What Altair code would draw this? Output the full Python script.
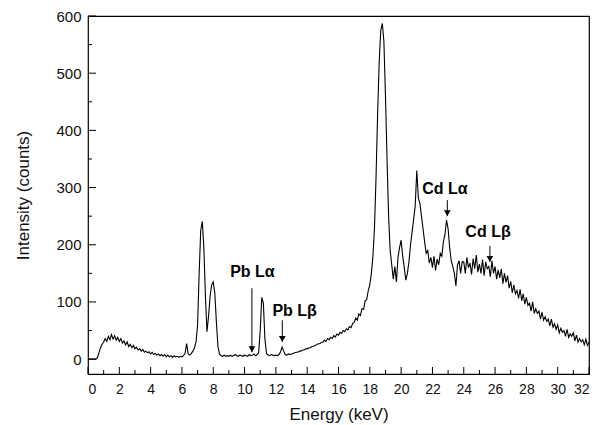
import altair as alt
import pandas as pd

# Spectrum intensity, read every 0.1 keV starting at 0.0 keV
start_energy = 0.0
energy_step = 0.1
intensity = [
    0, 0, 0, 0, 0, 0, 2, 11, 20, 26,
    30, 36, 31, 40, 34, 43, 35, 41, 33, 38,
    31, 36, 28, 32, 25, 30, 22, 26, 20, 24,
    18, 21, 16, 18, 14, 17, 12, 14, 11, 13,
    9, 12, 8, 10, 7, 9, 6, 8, 5, 8,
    4, 7, 4, 6, 3, 6, 4, 5, 3, 5,
    4, 6, 10, 27, 9, 7, 10, 14, 20, 30,
    60, 150, 225, 241, 195, 110, 48, 75, 110, 130,
    135, 115, 65, 22, 9, 6, 5, 7, 5, 6,
    5, 7, 5, 6, 8, 6, 5, 7, 6, 5,
    7, 6, 5, 8, 6, 7, 9, 6, 8, 11,
    50, 108, 98, 35, 10, 7, 6, 8, 7, 6,
    7, 6, 8, 13, 21, 14, 8, 7, 9, 8,
    9, 10, 11, 12, 12, 14, 14, 16, 16, 18,
    18, 20, 20, 22, 22, 24, 25, 27, 27, 29,
    30, 33, 31, 36, 34, 38, 36, 41, 39, 44,
    42, 47, 45, 50, 48, 53, 51, 57, 55, 62,
    64, 72, 68, 79, 76, 88, 87, 102, 104, 120,
    130, 150, 180, 230, 320, 430, 520, 575, 587, 555,
    460, 350, 250, 190, 165, 140, 162, 135, 178, 195,
    208, 180, 160, 138, 150, 170, 200, 222, 245, 268,
    330, 282, 272, 250, 228, 205, 185, 190, 168, 178,
    160, 180, 155, 175, 165, 185, 180, 205, 218, 243,
    228, 195, 172, 162, 150, 128, 165, 172, 150, 170,
    170, 150, 178, 160, 168, 148, 176, 158, 182, 152,
    166, 150, 174, 146, 170, 158, 162, 144, 172, 150,
    162, 140, 156, 142, 158, 132, 150, 134, 146, 124,
    136, 116, 130, 114, 120, 106, 122, 102, 114, 96,
    108, 94, 98, 84, 100, 80, 88, 80, 84, 70,
    82, 68, 74, 66, 70, 58, 70, 56, 62, 52,
    60, 46, 54, 47, 50, 40, 52, 38, 44, 40,
    46, 32, 42, 30, 36, 30, 34, 25, 35, 24,
    30,
]
energy = [round(start_energy + energy_step * i, 1) for i in range(len(intensity))]

# Peak annotations
labels = ["Pb Lα", "Pb Lβ", "Cd Lα", "Cd Lβ"]
label_x = [10.5, 13.2, 22.8, 25.55]
label_y = [152, 84, 298, 222]
arrow_x = [10.47, 12.41, 22.95, 25.67]
arrow_top = [124, 68, 278, 198]
arrow_tip = [12, 30, 250, 170]

# Axis labels and tick marks
x_labels = list(range(0, 33, 2))
x_major_ticks = list(range(0, 33, 2))
x_minor_ticks = list(range(1, 32, 2))
y_labels = list(range(0, 601, 100))
y_major_ticks = list(range(0, 601, 100))
y_minor_ticks = list(range(50, 600, 100))

W, H = 501, 358
FONT = "Liberation Sans"

spec = pd.DataFrame({"energy": energy, "intensity": intensity})
ann = pd.DataFrame({"label": labels, "lx": label_x, "ly": label_y,
                    "ax": arrow_x, "atop": arrow_top, "atip": arrow_tip})

xs = alt.Scale(domain=[0, 32], nice=False, zero=False)
ys = alt.Scale(domain=[-26, 600], nice=False, zero=False)

x_axis = alt.Axis(values=x_labels, ticks=False, domain=False, grid=False,
                  labelFont=FONT, labelFontSize=14, labelColor="#111",
                  labelPadding=8, titleFont=FONT, titleFontSize=17,
                  titleFontWeight="normal", titleColor="#111", titlePadding=10)
y_axis = alt.Axis(values=y_labels, ticks=False, domain=False, grid=False,
                  labelFont=FONT, labelFontSize=15, labelColor="#111",
                  labelPadding=7, titleFont=FONT, titleFontSize=17,
                  titleFontWeight="normal", titleColor="#111", titlePadding=23)
X_TITLE = "Energy (keV)"
Y_TITLE = "Intensity (counts)"

def xenc(field):
    return alt.X(field, type="quantitative", scale=xs, axis=x_axis, title=X_TITLE)

def yenc(field):
    return alt.Y(field, type="quantitative", scale=ys, axis=y_axis, title=Y_TITLE)

line = alt.Chart(spec).mark_line(color="black", strokeWidth=1.1).encode(
    x=xenc("energy"), y=yenc("intensity"))

def xtick_layer(vals, length):
    df = pd.DataFrame({"energy": vals})
    return alt.Chart(df).mark_rule(color="black", strokeWidth=1).encode(
        x=xenc("energy"), y=alt.value(H), y2=alt.value(H - length))

def ytick_layer(vals, length):
    df = pd.DataFrame({"intensity": vals})
    return alt.Chart(df).mark_rule(color="black", strokeWidth=1).encode(
        y=yenc("intensity"), x=alt.value(0), x2=alt.value(length))

arrows = alt.Chart(ann).mark_rule(color="black", strokeWidth=1).encode(
    x=xenc("ax"), y=yenc("atop"), y2="atip:Q")

heads = alt.Chart(ann).mark_point(shape="triangle-down", filled=True, color="black",
                                  size=45, opacity=1, yOffset=-3).encode(
    x=xenc("ax"), y=yenc("atip"))

texts = alt.Chart(ann).mark_text(font=FONT, fontSize=16, fontWeight="bold",
                                 color="black", align="center", baseline="middle").encode(
    x=xenc("lx"), y=yenc("ly"), text="label:N")

chart = alt.layer(
    line,
    xtick_layer(x_major_ticks, 7), xtick_layer(x_minor_ticks, 4),
    ytick_layer(y_major_ticks, 8), ytick_layer(y_minor_ticks, 4),
    arrows, heads, texts,
).properties(
    width=W, height=H,
    autosize=alt.AutoSizeParams(type="none"),
    padding={"left": 88, "top": 16, "right": 15, "bottom": 51},
    background="white",
).configure_view(stroke="black", strokeWidth=1.2)

chart.save("out.html", embed_options={"renderer": "svg", "actions": False})
